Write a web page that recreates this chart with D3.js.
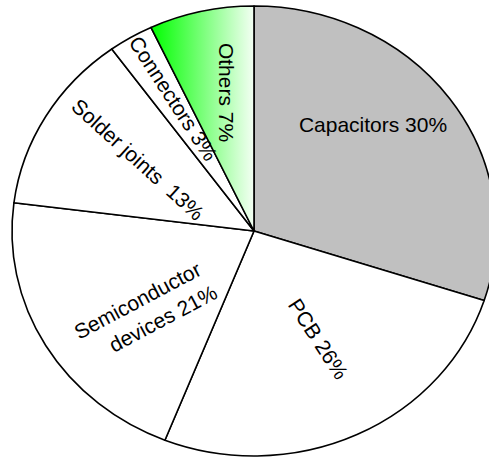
<!DOCTYPE html>
<html>
<head>
<meta charset="utf-8">
<script src="https://cdn.jsdelivr.net/npm/d3@7"></script>
<style>
  html, body { margin: 0; padding: 0; background: #fff; overflow: hidden; }
  svg { display: block; }
  text { font-family: "Liberation Sans", Arial, sans-serif; font-size: 21px; fill: #000; white-space: pre; }
</style>
</head>
<body>
<script>
// Failure share by component, clockwise from 12 o'clock
const categories = ["Capacitors", "PCB", "Semiconductor devices", "Solder joints", "Connectors", "Others"];
const shares = [30, 26, 21, 13, 3, 7];
const fills = ["#c0c0c0", "#ffffff", "#ffffff", "#ffffff", "#ffffff", "url(#othersFill)"];

// Label placement (screen px, rotation in degrees)
const labelLayout = [
  { x: 373, y: 131.5, rotate: 0 },
  { x: 312, y: 343, rotate: 57 },
  { x: 141, y: 307, rotate: -28, split: true, lineGap: 28, line2dx: 14 },
  { x: 133, y: 165, rotate: 42, gap: "  " },
  { x: 167, y: 102.5, rotate: 57 },
  { x: 219, y: 92.5, rotate: 90 }
];

const W = 489, H = 459;
const cx = 254, cy = 231, rx = 242, ry = 225;

const svg = d3.select("body").append("svg")
  .attr("width", W).attr("height", H);

const defs = svg.append("defs");
const grad = defs.append("linearGradient")
  .attr("id", "othersFill")
  .attr("x1", "0").attr("y1", "0").attr("x2", "1").attr("y2", "0");
grad.append("stop").attr("offset", "0").attr("stop-color", "#00ff00");
grad.append("stop").attr("offset", "1").attr("stop-color", "#f4fff4");

const pie = d3.pie().sort(null).value(d => d);
const arcs = pie(shares);
const arc = d3.arc().innerRadius(0).outerRadius(ry);

// Pie drawn as a circle and stretched horizontally into an ellipse
const g = svg.append("g")
  .attr("transform", `translate(${cx},${cy}) scale(${rx / ry},1)`);

g.selectAll("path")
  .data(arcs)
  .join("path")
  .attr("d", arc)
  .attr("fill", (d, i) => fills[i])
  .attr("stroke", "#000")
  .attr("stroke-width", 1.6)
  .attr("stroke-linejoin", "round")
  .attr("vector-effect", "non-scaling-stroke");

// Labels
const labels = svg.append("g");
categories.forEach((cat, i) => {
  const L = labelLayout[i];
  const t = labels.append("text")
    .attr("transform", `translate(${L.x},${L.y}) rotate(${L.rotate})`)
    .attr("text-anchor", "middle");
  const valueText = `${shares[i]}%`;
  if (L.split) {
    const sp = cat.indexOf(" ");
    t.append("tspan").attr("x", 0).attr("dy", 0).text(cat.slice(0, sp));
    t.append("tspan").attr("x", L.line2dx || 0).attr("dy", L.lineGap)
      .text(cat.slice(sp + 1) + " " + valueText);
  } else {
    t.text(cat + (L.gap || " ") + valueText);
  }
});
</script>
</body>
</html>
